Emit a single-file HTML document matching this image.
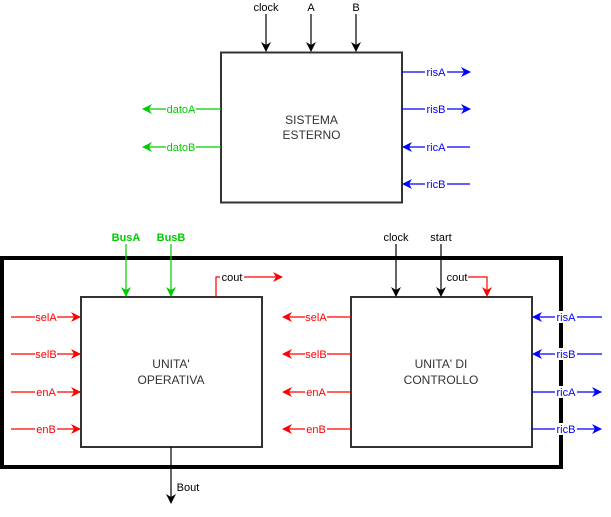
<!DOCTYPE html>
<html><head><meta charset="utf-8"><style>
html,body{margin:0;padding:0;background:#fff;}
svg{display:block;font-family:"Liberation Sans",Arial,sans-serif;}
</style></head><body>
<svg width="611" height="517" viewBox="0 0 611 517" xmlns="http://www.w3.org/2000/svg">
<defs>
<marker id="ak" markerWidth="10" markerHeight="10" refX="9" refY="5" orient="auto" markerUnits="userSpaceOnUse"><path d="M0,0 L10,5 L0,10 L3,5 z" fill="#000"/></marker>
<marker id="ar" markerWidth="10" markerHeight="10" refX="9" refY="5" orient="auto" markerUnits="userSpaceOnUse"><path d="M0,0 L10,5 L0,10 L3,5 z" fill="#f00"/></marker>
<marker id="ab" markerWidth="10" markerHeight="10" refX="9" refY="5" orient="auto" markerUnits="userSpaceOnUse"><path d="M0,0 L10,5 L0,10 L3,5 z" fill="#00f"/></marker>
<marker id="ag" markerWidth="10" markerHeight="10" refX="9" refY="5" orient="auto" markerUnits="userSpaceOnUse"><path d="M0,0 L10,5 L0,10 L3,5 z" fill="#0c0"/></marker>
</defs>
<g font-size="11" text-anchor="middle">
<!-- top system -->
<rect x="221" y="52.5" width="181" height="150" fill="#fff" stroke="#333" stroke-width="2"/>
<text x="311.5" y="124" font-size="12" fill="#333">SISTEMA</text>
<text x="311.5" y="139" font-size="12" fill="#333">ESTERNO</text>
<g stroke="#000" stroke-width="1.2">
<line x1="266" y1="14" x2="266" y2="51" marker-end="url(#ak)"/>
<line x1="311" y1="14" x2="311" y2="51" marker-end="url(#ak)"/>
<line x1="356" y1="14" x2="356" y2="51" marker-end="url(#ak)"/>
</g>
<text x="266" y="11">clock</text><text x="311" y="11">A</text><text x="356" y="11">B</text>
<g stroke="#00f" stroke-width="1.2">
<line x1="402" y1="72" x2="470" y2="72" marker-end="url(#ab)"/>
<line x1="402" y1="109" x2="470" y2="109" marker-end="url(#ab)"/>
<line x1="470" y1="147" x2="403" y2="147" marker-end="url(#ab)"/>
<line x1="470" y1="184" x2="403" y2="184" marker-end="url(#ab)"/>
</g>
<g fill="#00f"><rect x="425" y="66" width="22" height="12" fill="#fff"/><text x="436" y="76">risA</text>
<rect x="425" y="103" width="22" height="12" fill="#fff"/><text x="436" y="113">risB</text>
<rect x="425" y="141" width="22" height="12" fill="#fff"/><text x="436" y="151">ricA</text>
<rect x="425" y="178" width="22" height="12" fill="#fff"/><text x="436" y="188">ricB</text></g>
<g stroke="#0c0" stroke-width="1.2">
<line x1="221" y1="109" x2="143" y2="109" marker-end="url(#ag)"/>
<line x1="221" y1="147" x2="143" y2="147" marker-end="url(#ag)"/>
</g>
<g fill="#0c0"><rect x="166" y="103" width="30" height="12" fill="#fff"/><text x="181" y="113">datoA</text>
<rect x="166" y="141" width="30" height="12" fill="#fff"/><text x="181" y="151">datoB</text></g>

<!-- outer container -->
<rect x="2" y="258" width="559" height="209" fill="none" stroke="#000" stroke-width="4"/>

<!-- UO -->
<rect x="81" y="297" width="181" height="150" fill="#fff" stroke="#333" stroke-width="2"/>
<text x="171" y="368" font-size="12" fill="#333">UNITA'</text>
<text x="171" y="384" font-size="12" fill="#333">OPERATIVA</text>
<g stroke="#0c0" stroke-width="1.2">
<line x1="126" y1="244" x2="126" y2="296" marker-end="url(#ag)"/>
<line x1="171" y1="244" x2="171" y2="296" marker-end="url(#ag)"/>
</g>
<g fill="#0c0" font-weight="bold"><text x="126" y="241">BusA</text><text x="171" y="241">BusB</text></g>
<g stroke="#f00" stroke-width="1.2" fill="none">
<polyline points="216,297 216,277 282,277" marker-end="url(#ar)"/>
<line x1="11" y1="317" x2="80" y2="317" marker-end="url(#ar)"/>
<line x1="11" y1="354" x2="80" y2="354" marker-end="url(#ar)"/>
<line x1="11" y1="392" x2="80" y2="392" marker-end="url(#ar)"/>
<line x1="11" y1="429" x2="80" y2="429" marker-end="url(#ar)"/>
</g>
<rect x="220" y="271" width="24" height="12" fill="#fff"/><text x="232" y="281">cout</text>
<g fill="#f00"><rect x="35" y="311" width="22" height="12" fill="#fff"/><text x="46" y="321">selA</text>
<rect x="35" y="348" width="22" height="12" fill="#fff"/><text x="46" y="358">selB</text>
<rect x="35" y="386" width="22" height="12" fill="#fff"/><text x="46" y="396">enA</text>
<rect x="35" y="423" width="22" height="12" fill="#fff"/><text x="46" y="433">enB</text></g>
<line x1="171" y1="447" x2="171" y2="503" stroke="#000" stroke-width="1.2" marker-end="url(#ak)"/>
<text x="188" y="491">Bout</text>

<!-- UC -->
<rect x="351" y="297" width="181" height="150" fill="#fff" stroke="#333" stroke-width="2"/>
<text x="441" y="368" font-size="12" fill="#333">UNITA' DI</text>
<text x="441" y="384" font-size="12" fill="#333">CONTROLLO</text>
<g stroke="#000" stroke-width="1.2">
<line x1="396" y1="244" x2="396" y2="296" marker-end="url(#ak)"/>
<line x1="441" y1="244" x2="441" y2="296" marker-end="url(#ak)"/>
</g>
<text x="396" y="241">clock</text><text x="441" y="241">start</text>
<polyline points="468,277 487,277 487,296" fill="none" stroke="#f00" stroke-width="1.2" marker-end="url(#ar)"/>
<text x="457" y="281">cout</text>
<g stroke="#f00" stroke-width="1.2">
<line x1="351" y1="317" x2="283" y2="317" marker-end="url(#ar)"/>
<line x1="351" y1="354" x2="283" y2="354" marker-end="url(#ar)"/>
<line x1="351" y1="392" x2="283" y2="392" marker-end="url(#ar)"/>
<line x1="351" y1="429" x2="283" y2="429" marker-end="url(#ar)"/>
</g>
<g fill="#f00"><rect x="305" y="311" width="22" height="12" fill="#fff"/><text x="316" y="321">selA</text>
<rect x="305" y="348" width="22" height="12" fill="#fff"/><text x="316" y="358">selB</text>
<rect x="305" y="386" width="22" height="12" fill="#fff"/><text x="316" y="396">enA</text>
<rect x="305" y="423" width="22" height="12" fill="#fff"/><text x="316" y="433">enB</text></g>
<g stroke="#00f" stroke-width="1.2">
<line x1="602" y1="317" x2="533" y2="317" marker-end="url(#ab)"/>
<line x1="602" y1="354" x2="533" y2="354" marker-end="url(#ab)"/>
<line x1="532" y1="392" x2="601" y2="392" marker-end="url(#ab)"/>
<line x1="532" y1="429" x2="601" y2="429" marker-end="url(#ab)"/>
</g>
<g fill="#00f"><rect x="555" y="311" width="22" height="12" fill="#fff"/><text x="566" y="321">risA</text>
<rect x="555" y="348" width="22" height="12" fill="#fff"/><text x="566" y="358">risB</text>
<rect x="555" y="386" width="22" height="12" fill="#fff"/><text x="566" y="396">ricA</text>
<rect x="555" y="423" width="22" height="12" fill="#fff"/><text x="566" y="433">ricB</text></g>
</g>
</svg>
</body></html>
